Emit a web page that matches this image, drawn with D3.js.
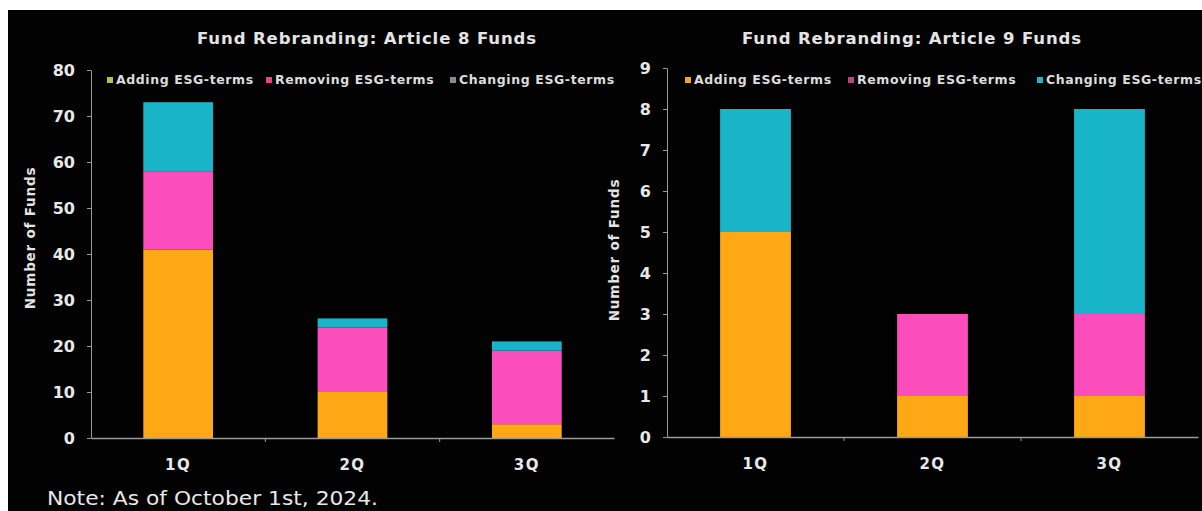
<!DOCTYPE html>
<html>
<head>
<meta charset="utf-8">
<script src="https://d3js.org/d3.v7.min.js"></script>
<style>
  body { margin: 0; background: #fff; }
  text { font-family: "DejaVu Sans", Verdana, sans-serif; }
</style>
</head>
<body>
<svg width="1202" height="511"></svg>
<script>
var quarters = ["1Q", "2Q", "3Q"];
var seriesNames = ["Adding ESG-terms", "Removing ESG-terms", "Changing ESG-terms"];

// Article 8 funds
var art8Adding = [41, 10, 3];
var art8Removing = [17, 14, 16];
var art8Changing = [15, 2, 2];

// Article 9 funds
var art9Adding = [5, 1, 1];
var art9Removing = [0, 2, 2];
var art9Changing = [3, 0, 5];

var art8Ticks = [0, 10, 20, 30, 40, 50, 60, 70, 80];
var art9Ticks = [0, 1, 2, 3, 4, 5, 6, 7, 8, 9];

var barColors = ["#fea816", "#fb4dbb", "#18b4c8"];

var svg = d3.select("svg");
svg.append("rect").attr("x", 8).attr("y", 10).attr("width", 1194).attr("height", 501).attr("fill", "#020202");

function drawPanel(opt) {
    var x = d3.scaleBand().domain(quarters).range([opt.left, opt.right]);
    var y = d3.scaleLinear().domain([0, opt.max]).range([opt.bottom, opt.top]);
    var g = svg.append("g");

    var rows = quarters.map(function(q, i) {
        return { q: q, a: opt.adding[i], r: opt.removing[i], c: opt.changing[i] };
    });
    var stack = d3.stack().keys(["a", "r", "c"])(rows);
    var bw = x.bandwidth() * 0.4;

    g.selectAll(".layer").data(stack).enter().append("g")
        .attr("fill", function(d, i) { return barColors[i]; })
        .selectAll("rect").data(function(d) { return d; }).enter().append("rect")
        .attr("x", function(d) { return x(d.data.q) + (x.bandwidth() - bw) / 2; })
        .attr("width", bw)
        .attr("y", function(d) { return y(d[1]); })
        .attr("height", function(d) { return y(d[0]) - y(d[1]); });

    // y axis
    var yAxis = g.append("g").attr("transform", "translate(" + opt.left + ",0)")
        .call(d3.axisLeft(y).tickValues(opt.ticks).tickSize(4).tickPadding(12).tickSizeOuter(0));
    yAxis.select(".domain").attr("stroke", "#9a9a9a");
    yAxis.selectAll(".tick line").attr("stroke", "#9a9a9a");
    yAxis.selectAll("text").attr("fill", "#e8e8e8").attr("font-size", 16).attr("font-weight", "bold");

    // x axis
    var xAxis = g.append("g").attr("transform", "translate(0," + opt.bottom + ")")
        .call(d3.axisBottom(x).tickSize(0).tickPadding(21).tickSizeOuter(0));
    xAxis.select(".domain").attr("stroke", "#9a9a9a").attr("stroke-width", 1.5);
    xAxis.selectAll("text").attr("fill", "#e8e8e8").attr("font-size", 15)
        .attr("font-weight", "bold").attr("letter-spacing", 1.5);
    g.selectAll(".sep").data(quarters.slice(1)).enter().append("line")
        .attr("x1", function(d) { return x(d); }).attr("x2", function(d) { return x(d); })
        .attr("y1", opt.bottom).attr("y2", opt.bottom + 4).attr("stroke", "#9a9a9a");

    // title
    g.append("text").attr("x", opt.titleX).attr("y", 44).attr("text-anchor", "middle")
        .attr("fill", "#e4e4e4").attr("font-size", 16.5).attr("font-weight", "bold")
        .attr("letter-spacing", 0.9).text(opt.title);

    // y axis title
    g.append("text").attr("transform", "translate(" + opt.yTitleX + "," + opt.yTitleY + ") rotate(-90)")
        .attr("text-anchor", "middle").attr("fill", "#e4e4e4")
        .attr("font-size", 13.5).attr("font-weight", "bold").attr("letter-spacing", 0.8)
        .text("Number of Funds");

    // legend
    var lg = g.selectAll(".leg").data(seriesNames).enter().append("g")
        .attr("transform", function(d, i) { return "translate(" + opt.legendX[i] + ",84)"; });
    lg.append("rect").attr("x", 0).attr("y", -7).attr("width", 6).attr("height", 6)
        .attr("fill", function(d, i) { return opt.legendColors[i]; });
    lg.append("text").attr("x", 9).attr("y", 0).attr("fill", "#dcdcdc")
        .attr("font-size", 12.5).attr("font-weight", "bold").attr("letter-spacing", 0.6)
        .text(function(d) { return d; });
}

drawPanel({
    left: 91, right: 614, top: 70, bottom: 438, max: 80, ticks: art8Ticks,
    adding: art8Adding, removing: art8Removing, changing: art8Changing,
    title: "Fund Rebranding: Article 8 Funds", titleX: 367,
    yTitleX: 35, yTitleY: 238,
    legendX: [107, 266, 450],
    legendColors: ["#b7c24a", "#e8457a", "#8a8a8a"]
});

drawPanel({
    left: 667, right: 1198, top: 68, bottom: 437, max: 9, ticks: art9Ticks,
    adding: art9Adding, removing: art9Removing, changing: art9Changing,
    title: "Fund Rebranding: Article 9 Funds", titleX: 912,
    yTitleX: 619, yTitleY: 250,
    legendX: [685, 848, 1037],
    legendColors: ["#f2a52a", "#b54a7a", "#20b8c4"]
});

svg.append("text").attr("x", 47).attr("y", 505).attr("fill", "#e8e8e8")
    .attr("font-size", 20).attr("textLength", 331).attr("lengthAdjust", "spacingAndGlyphs")
    .text("Note: As of October 1st, 2024.");
</script>
</body>
</html>
